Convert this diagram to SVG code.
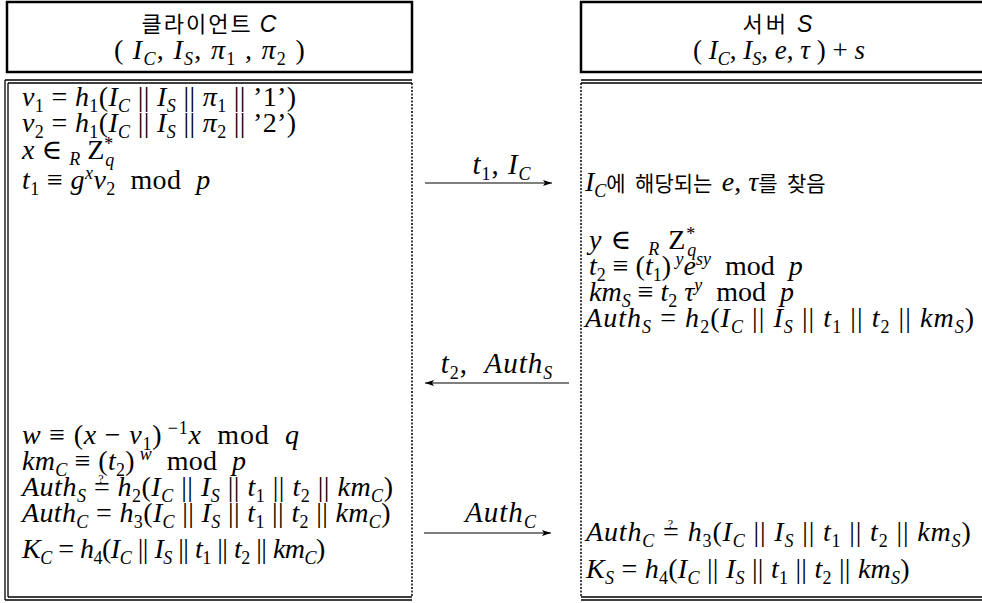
<svg xmlns="http://www.w3.org/2000/svg" width="982" height="603" viewBox="0 0 982 603">
<style>
.m{font-family:"Liberation Serif","DejaVu Serif",serif;font-size:28px;fill:#000;white-space:pre}
.i{font-style:italic}
.s{font-size:18px}
.q{font-size:12px;font-style:normal}
.k{font-family:"Noto Sans CJK KR",sans-serif;font-style:normal;font-size:21px}
.hk{font-family:"Noto Sans CJK KR",sans-serif;font-size:22px;fill:#000;white-space:pre}
.hs{font-family:"Liberation Sans",sans-serif;font-style:italic;font-size:23px}
.lb{font-size:29px;letter-spacing:1px}
.solid{fill:none;stroke:#000;stroke-width:2.5}
.thin{fill:none;stroke:#000;stroke-width:1.3}
.dot{fill:none;stroke:#000;stroke-width:1.5;stroke-dasharray:2 1.5}
.arr{fill:none;stroke:#000;stroke-width:1.2}
</style>
<defs>
<marker id="ah" markerWidth="10" markerHeight="8" refX="9" refY="4" orient="auto" markerUnits="userSpaceOnUse">
<path d="M0,1 L9,4 L0,7 L2,4 Z" fill="#000"/>
</marker>
</defs>

<g id="client-header">
<rect class="solid" x="7" y="2" width="405" height="70"/>
<text class="hk" x="210" y="32" text-anchor="middle" letter-spacing="2">클라이언트 <tspan class="hs">C</tspan></text>
<text class="m" x="210" y="59" text-anchor="middle" style="letter-spacing:1.3px">( <tspan class="i">I</tspan><tspan class="s i" dy="6">C</tspan><tspan dy="-6">, </tspan><tspan class="i">I</tspan><tspan class="s i" dy="6">S</tspan><tspan dy="-6">, </tspan><tspan class="i">π</tspan><tspan class="s" dy="6">1</tspan><tspan dy="-6"> , </tspan><tspan class="i">π</tspan><tspan class="s" dy="6">2</tspan><tspan dy="-6"> )</tspan></text>
</g>

<g id="server-header">
<rect class="solid" x="581" y="2" width="410" height="70"/>
<text class="hk" x="779" y="32" text-anchor="middle" letter-spacing="3">서버 <tspan class="hs">S</tspan></text>
<text class="m" x="779" y="59" text-anchor="middle" style="font-size:27px">( <tspan class="i">I</tspan><tspan class="s i" dy="6">C</tspan><tspan dy="-6">, </tspan><tspan class="i">I</tspan><tspan class="s i" dy="6">S</tspan><tspan dy="-6">, </tspan><tspan class="i">e</tspan><tspan>, </tspan><tspan class="i">τ</tspan><tspan> ) + </tspan><tspan class="i">s</tspan></text>
</g>

<g id="client-body">
<path class="thin" d="M5,80 H412 M8,83 H412 M5,80 V600 M8,83 V597 M5,600 H412 M8,597 H412"/>
<path class="dot" d="M412,83 V597"/>
<text class="m" x="22" y="106" style="letter-spacing:0.35px"><tspan class="i">v</tspan><tspan class="s" dy="6">1</tspan><tspan dy="-6"> = </tspan><tspan class="i">h</tspan><tspan class="s" dy="6">1</tspan><tspan dy="-6">(</tspan><tspan class="i">I</tspan><tspan class="s i" dy="6">C</tspan><tspan dy="-6"> || </tspan><tspan class="i">I</tspan><tspan class="s i" dy="6">S</tspan><tspan dy="-6"> || </tspan><tspan class="i">π</tspan><tspan class="s" dy="6">1</tspan><tspan dy="-6"> || ’1’)</tspan></text>
<text class="m" x="22" y="132" style="letter-spacing:0.35px"><tspan class="i">v</tspan><tspan class="s" dy="6">2</tspan><tspan dy="-6"> = </tspan><tspan class="i">h</tspan><tspan class="s" dy="6">1</tspan><tspan dy="-6">(</tspan><tspan class="i">I</tspan><tspan class="s i" dy="6">C</tspan><tspan dy="-6"> || </tspan><tspan class="i">I</tspan><tspan class="s i" dy="6">S</tspan><tspan dy="-6"> || </tspan><tspan class="i">π</tspan><tspan class="s" dy="6">2</tspan><tspan dy="-6"> || ’2’)</tspan></text>
<text class="m" x="22" y="159"><tspan class="i">x</tspan><tspan> ∈ </tspan><tspan class="s i" dy="6">R</tspan><tspan dy="-6"> Z</tspan><tspan class="s" dy="-9">*</tspan><tspan class="s i" dx="-8" dy="16">q</tspan></text>
<text class="m" x="22" y="189" style="letter-spacing:0.4px"><tspan class="i">t</tspan><tspan class="s" dy="6">1</tspan><tspan dy="-6"> ≡ </tspan><tspan class="i">g</tspan><tspan class="s i" dy="-10">x</tspan><tspan class="i" dy="10">v</tspan><tspan class="s" dy="6">2</tspan><tspan dy="-6">  mod  </tspan><tspan class="i">p</tspan></text>
<text class="m" x="22" y="444" style="letter-spacing:0.8px"><tspan class="i">w</tspan><tspan> ≡ (</tspan><tspan class="i">x</tspan><tspan> − </tspan><tspan class="i">v</tspan><tspan class="s" dy="6">1</tspan><tspan dy="-6">)</tspan><tspan class="s" dy="-10"> −1</tspan><tspan class="i" dy="10">x</tspan><tspan>  mod  </tspan><tspan class="i">q</tspan></text>
<text class="m" x="22" y="470" style="letter-spacing:0.3px"><tspan class="i">km</tspan><tspan class="s i" dy="6">C</tspan><tspan dy="-6"> ≡ (</tspan><tspan class="i">t</tspan><tspan class="s" dy="6">2</tspan><tspan dy="-6">)</tspan><tspan class="s i" dy="-10"> w</tspan><tspan dy="10">  mod  </tspan><tspan class="i">p</tspan></text>
<text class="m" x="22" y="496" style="letter-spacing:0.5px"><tspan class="i">Auth</tspan><tspan class="s i" dy="6">S</tspan><tspan dy="-6"> =</tspan><tspan class="q" dx="-12" dy="-13">?</tspan><tspan dx="6" dy="13"> </tspan><tspan class="i">h</tspan><tspan class="s" dy="6">2</tspan><tspan dy="-6">(</tspan><tspan class="i">I</tspan><tspan class="s i" dy="6">C</tspan><tspan dy="-6"> || </tspan><tspan class="i">I</tspan><tspan class="s i" dy="6">S</tspan><tspan dy="-6"> || </tspan><tspan class="i">t</tspan><tspan class="s" dy="6">1</tspan><tspan dy="-6"> || </tspan><tspan class="i">t</tspan><tspan class="s" dy="6">2</tspan><tspan dy="-6"> || </tspan><tspan class="i">km</tspan><tspan class="s i" dy="6">C</tspan><tspan dy="-6">)</tspan></text>
<text class="m" x="22" y="522" style="letter-spacing:0.35px"><tspan class="i">Auth</tspan><tspan class="s i" dy="6">C</tspan><tspan dy="-6"> = </tspan><tspan class="i">h</tspan><tspan class="s" dy="6">3</tspan><tspan dy="-6">(</tspan><tspan class="i">I</tspan><tspan class="s i" dy="6">C</tspan><tspan dy="-6"> || </tspan><tspan class="i">I</tspan><tspan class="s i" dy="6">S</tspan><tspan dy="-6"> || </tspan><tspan class="i">t</tspan><tspan class="s" dy="6">1</tspan><tspan dy="-6"> || </tspan><tspan class="i">t</tspan><tspan class="s" dy="6">2</tspan><tspan dy="-6"> || </tspan><tspan class="i">km</tspan><tspan class="s i" dy="6">C</tspan><tspan dy="-6">)</tspan></text>
<text class="m" x="22" y="558" style="letter-spacing:-0.5px"><tspan class="i">K</tspan><tspan class="s i" dy="6">C</tspan><tspan dy="-6"> = </tspan><tspan class="i">h</tspan><tspan class="s" dy="6">4</tspan><tspan dy="-6">(</tspan><tspan class="i">I</tspan><tspan class="s i" dy="6">C</tspan><tspan dy="-6"> || </tspan><tspan class="i">I</tspan><tspan class="s i" dy="6">S</tspan><tspan dy="-6"> || </tspan><tspan class="i">t</tspan><tspan class="s" dy="6">1</tspan><tspan dy="-6"> || </tspan><tspan class="i">t</tspan><tspan class="s" dy="6">2</tspan><tspan dy="-6"> || </tspan><tspan class="i">km</tspan><tspan class="s i" dy="6">C</tspan><tspan dy="-6">)</tspan></text>
</g>

<g id="server-body">
<path class="thin" d="M581,80 H982 M581,83 H982 M581,597 H982 M581,600 H982"/>
<path class="dot" d="M581,83 V597"/>
<text class="m" x="585" y="191"><tspan class="i">I</tspan><tspan class="s i" dy="6">C</tspan><tspan class="k" dy="-6">에  해당되는  </tspan><tspan class="i">e</tspan><tspan>, </tspan><tspan class="i">τ</tspan><tspan class="k">를  찾음</tspan></text>
<text class="m" x="589" y="249" style="letter-spacing:1px"><tspan class="i">y</tspan><tspan> ∈  </tspan><tspan class="s i" dy="6">R</tspan><tspan dy="-6"> Z</tspan><tspan class="s" dy="-9">*</tspan><tspan class="s i" dx="-9" dy="16">q</tspan></text>
<text class="m" x="589" y="275"><tspan class="i">t</tspan><tspan class="s" dy="6">2</tspan><tspan dy="-6"> ≡ (</tspan><tspan class="i">t</tspan><tspan class="s" dy="6">1</tspan><tspan dy="-6">)</tspan><tspan class="s i" dy="-10"> y</tspan><tspan class="i" dy="10">e</tspan><tspan class="s i" dy="-10">sy</tspan><tspan dy="10">  mod  </tspan><tspan class="i">p</tspan></text>
<text class="m" x="589" y="301"><tspan class="i">km</tspan><tspan class="s i" dy="6">S</tspan><tspan dy="-6"> ≡ </tspan><tspan class="i">t</tspan><tspan class="s" dy="6">2</tspan><tspan class="i" dy="-6"> τ</tspan><tspan class="s i" dy="-10">y</tspan><tspan dy="10">  mod  </tspan><tspan class="i">p</tspan></text>
<text class="m" x="585" y="327" style="letter-spacing:1.05px"><tspan class="i">Auth</tspan><tspan class="s i" dy="6">S</tspan><tspan dy="-6"> = </tspan><tspan class="i">h</tspan><tspan class="s" dy="6">2</tspan><tspan dy="-6">(</tspan><tspan class="i">I</tspan><tspan class="s i" dy="6">C</tspan><tspan dy="-6"> || </tspan><tspan class="i">I</tspan><tspan class="s i" dy="6">S</tspan><tspan dy="-6"> || </tspan><tspan class="i">t</tspan><tspan class="s" dy="6">1</tspan><tspan dy="-6"> || </tspan><tspan class="i">t</tspan><tspan class="s" dy="6">2</tspan><tspan dy="-6"> || </tspan><tspan class="i">km</tspan><tspan class="s i" dy="6">S</tspan><tspan dy="-6">)</tspan></text>
<text class="m" x="586" y="541" style="letter-spacing:0.85px"><tspan class="i">Auth</tspan><tspan class="s i" dy="6">C</tspan><tspan dy="-6"> =</tspan><tspan class="q" dx="-12" dy="-13">?</tspan><tspan dx="6" dy="13"> </tspan><tspan class="i">h</tspan><tspan class="s" dy="6">3</tspan><tspan dy="-6">(</tspan><tspan class="i">I</tspan><tspan class="s i" dy="6">C</tspan><tspan dy="-6"> || </tspan><tspan class="i">I</tspan><tspan class="s i" dy="6">S</tspan><tspan dy="-6"> || </tspan><tspan class="i">t</tspan><tspan class="s" dy="6">1</tspan><tspan dy="-6"> || </tspan><tspan class="i">t</tspan><tspan class="s" dy="6">2</tspan><tspan dy="-6"> || </tspan><tspan class="i">km</tspan><tspan class="s i" dy="6">S</tspan><tspan dy="-6">)</tspan></text>
<text class="m" x="586" y="578" style="letter-spacing:0.25px"><tspan class="i">K</tspan><tspan class="s i" dy="6">S</tspan><tspan dy="-6"> = </tspan><tspan class="i">h</tspan><tspan class="s" dy="6">4</tspan><tspan dy="-6">(</tspan><tspan class="i">I</tspan><tspan class="s i" dy="6">C</tspan><tspan dy="-6"> || </tspan><tspan class="i">I</tspan><tspan class="s i" dy="6">S</tspan><tspan dy="-6"> || </tspan><tspan class="i">t</tspan><tspan class="s" dy="6">1</tspan><tspan dy="-6"> || </tspan><tspan class="i">t</tspan><tspan class="s" dy="6">2</tspan><tspan dy="-6"> || </tspan><tspan class="i">km</tspan><tspan class="s i" dy="6">S</tspan><tspan dy="-6">)</tspan></text>
</g>

<g id="connectors">
<line class="arr" x1="425" y1="183" x2="552" y2="183" marker-end="url(#ah)"/>
<text class="m lb" x="502" y="174" text-anchor="middle"><tspan class="i">t</tspan><tspan class="s" dy="6">1</tspan><tspan dy="-6">, </tspan><tspan class="i">I</tspan><tspan class="s i" dy="6">C</tspan></text>
<line class="arr" x1="569" y1="383" x2="425" y2="383" marker-end="url(#ah)"/>
<text class="m lb" x="497" y="373" text-anchor="middle"><tspan class="i">t</tspan><tspan class="s" dy="6">2</tspan><tspan dy="-6">,  </tspan><tspan class="i">Auth</tspan><tspan class="s i" dy="6">S</tspan></text>
<line class="arr" x1="424" y1="533" x2="551" y2="533" marker-end="url(#ah)"/>
<text class="m lb" x="501" y="522" text-anchor="middle"><tspan class="i">Auth</tspan><tspan class="s i" dy="6">C</tspan></text>
</g>
</svg>
